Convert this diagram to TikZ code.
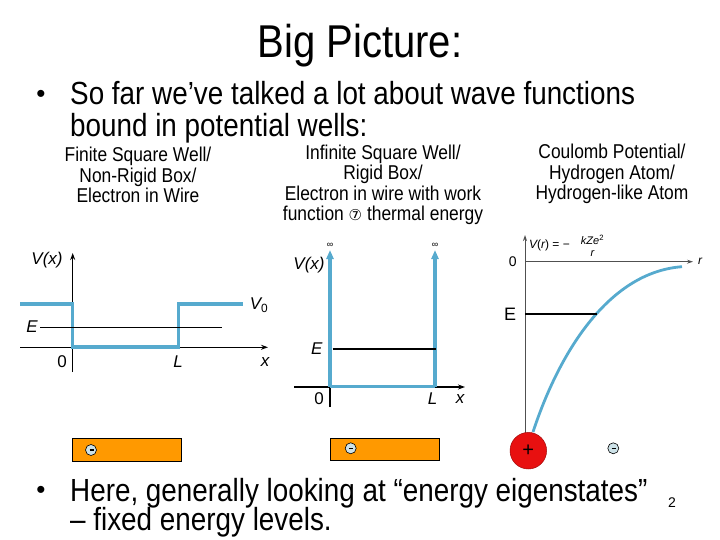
\documentclass[tikz,border=0pt]{standalone}
\usepackage{fontspec}
\setmainfont[FakeStretch=0.87]{Liberation Sans}
\newfontfamily\plainsans{Liberation Sans}
\newfontfamily\dejavu{DejaVu Sans}
\usetikzlibrary{arrows.meta}
\definecolor{wellblue}{RGB}{86,170,206}
\definecolor{boxorange}{RGB}{255,153,0}
\definecolor{nucred}{RGB}{232,16,16}
\definecolor{elecfill}{RGB}{205,226,232}
\definecolor{axisgray}{RGB}{80,80,80}
\begin{document}
\begin{tikzpicture}[x=1pt,y=-1pt,
  slidetext/.style={font=\fontsize{32}{34}\selectfont, anchor=base west, inner sep=0},
  bulletmark/.style={font=\plainsans\fontsize{26}{26}\selectfont, inner sep=0},
  caption/.style={font=\fontsize{20}{20.5}\selectfont, align=center, inner sep=0},
  axisline/.style={draw=black, line width=1.1, -{Stealth[length=7,width=5]}},
  thinaxis/.style={draw=axisgray, line width=0.9, -{Stealth[length=6,width=4]}},
  well/.style={draw=wellblue, line width=3.2},
  level/.style={draw=black, line width=1.3},
  lbl/.style={font=\plainsans\fontsize{17}{17}\selectfont, inner sep=0},
  smalllbl/.style={font=\plainsans\fontsize{12}{12}\selectfont, inner sep=0},
  electron/.style={circle, draw=black, fill=elecfill, minimum size=11, inner sep=0, line width=0.6,
    path picture={\draw[line width=1.3] ([xshift=-1.5]path picture bounding box.center) -- ([xshift=2.5]path picture bounding box.center);}},
  wire/.style={draw=black, fill=boxorange, line width=0.8, inner sep=0, anchor=north west}
]
\useasboundingbox (0,0) rectangle (720,540);

% title
\node[font=\fontsize{46}{46}\selectfont, anchor=base, inner sep=0] (title) at (360,58) {Big Picture:};

% bullet 1
\node[bulletmark] (b1) at (41,96) {•};
\node[slidetext] (t1a) at (70,105) {So far we’ve talked a lot about wave functions};
\node[slidetext] (t1b) at (70,137) {bound in potential wells:};

% captions
\node[caption] (cap1) at (138,175) {Finite Square Well/\\Non-Rigid Box/\\Electron in Wire};
\node[caption] (cap2) at (383,185) {Infinite Square Well/\\Rigid Box/\\Electron in wire with work\\function {\dejavu\fontsize{15}{15}\selectfont ⑦} thermal energy};
\node[caption] (cap3) at (612,174) {Coulomb Potential/\\Hydrogen Atom/\\Hydrogen-like Atom};

% ---------- finite square well ----------
\draw[axisline] (20,347.3) -- (268,347.3);
\draw[axisline] (72.7,372) -- (72.7,253);
\draw[well] (20,304) -- (72.7,304) -- (72.7,347) -- (178.3,347) -- (178.3,304) -- (242.7,304);
\draw[level] (40,327.3) -- (221.7,327.3);
\node[lbl] (vx1) at (47,260) {\itshape V(x)};
\node[lbl] (e1) at (32,327) {\itshape E};
\node[lbl] (v01) at (259,305) {\itshape V\textsubscript{\upshape 0}};
\node[lbl] (z1) at (62,362) {0};
\node[lbl] (l1) at (178,362) {\itshape L};
\node[lbl] (x1) at (265,362) {\itshape x};
\node[wire, minimum width=108.4, minimum height=22.4] (wire1) at (72.3,438.3) {};
\node[electron] (el1) at (91,450) {};

% ---------- infinite square well ----------
\draw[axisline] (294,387) -- (465,387);
\draw[draw=black, line width=1.1] (330,407) -- (330,387);
\draw[well, -{Triangle[length=9,width=7]}] (330,386.7) -- (330,250);
\draw[well, -{Triangle[length=9,width=7]}] (435,386.7) -- (435,250);
\draw[well] (330,386.7) -- (435,386.7);
\draw[level] (332.7,349) -- (436,349);
\node[font=\plainsans\fontsize{9}{9}\selectfont, inner sep=0] (inf1) at (330,245) {∞};
\node[font=\plainsans\fontsize{9}{9}\selectfont, inner sep=0] (inf2) at (435,245) {∞};
\node[lbl] (vx2) at (309,265) {\itshape V(x)};
\node[lbl] (e2) at (316.7,349) {\itshape E};
\node[lbl] (z2) at (319,399) {0};
\node[lbl] (l2) at (432.7,399) {\itshape L};
\node[lbl] (x2) at (460,399) {\itshape x};
\node[wire, minimum width=108.4, minimum height=21.7] (wire2) at (330.3,438.3) {};
\node[electron] (el2) at (350.7,448.3) {};

% ---------- Coulomb potential ----------
\draw[thinaxis] (525,433) -- (525,235);
\draw[thinaxis] (525,261.7) -- (693,261.7);
\draw[draw=wellblue, line width=2.8] (533,432) .. controls (560,350) and (610,272) .. (682,266.7);
\draw[level] (525,314) -- (596.7,314);
\node[smalllbl, font=\plainsans\fontsize{14}{14}\selectfont] (z3) at (512.7,261.5) {0};
\node[smalllbl] (r3) at (700,261) {\itshape r};
\node[smalllbl] (vr) at (549.5,245.5) {\itshape V\upshape(\itshape r\upshape) = −};
\node[smalllbl, font=\plainsans\fontsize{11}{11}\selectfont] (vrnum) at (592.5,240) {\itshape kZe\textsuperscript{\upshape 2}};
\node[smalllbl, font=\plainsans\fontsize{11}{11}\selectfont] (vrden) at (592.5,254) {\itshape r};
\node[font=\plainsans\fontsize{18}{18}\selectfont, inner sep=0] (e3) at (510,314) {E};
\node[circle, draw=nucred!70!black, line width=0.5, fill=nucred, minimum size=36.6, inner sep=0,
      font=\plainsans\fontsize{20}{20}\selectfont] (nuc) at (528.3,450.7) {+};
\node[electron] (el3) at (613.3,448.3) {};

% bullet 2
\node[bulletmark] (b2) at (41,492) {•};
\node[slidetext] (t2a) at (70,501) {Here, generally looking at “energy eigenstates”};
\node[slidetext] (t2b) at (70,530) {– fixed energy levels.};
\node[font=\plainsans\fontsize{14}{14}\selectfont, inner sep=0] (pg) at (672,503) {2};
\end{tikzpicture}
\end{document}
